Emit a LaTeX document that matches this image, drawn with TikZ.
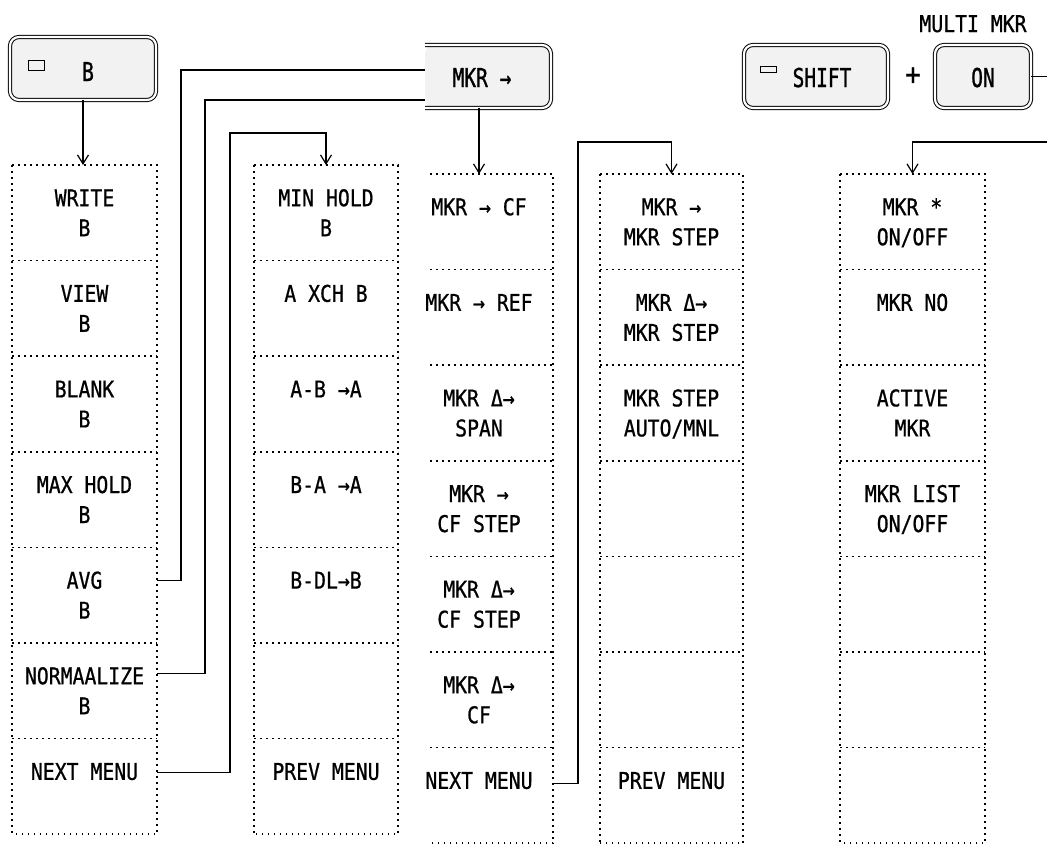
\documentclass[tikz,border=0pt]{standalone}
\usepackage{fontspec}
\newfontfamily\pf[FakeStretch=0.86,FakeBold=0.8]{DejaVu Sans Mono}
\newfontfamily\kf[FakeStretch=0.75,FakeBold=1]{DejaVu Sans Mono}
\usetikzlibrary{arrows.meta}
\tikzset{
  dotline/.style={line width=1.6pt, dash pattern=on 1.6pt off 4.4pt},
  cell/.style={inner sep=0pt, outer sep=0pt, minimum height=95.6pt},
  lbl/.style={font=\pf\fontsize{23}{30}\selectfont, align=center, anchor=north, inner sep=0pt},
  keylbl/.style={font=\kf\fontsize{26}{30}\selectfont, anchor=base, inner sep=0pt},
  wire/.style={line width=1.2pt},
  arr/.style={wire, -{Straight Barb[length=9pt,width=11pt,line width=1.2pt]}},
  keybox/.style={draw, line width=1pt, double=white, double distance=2.2pt,
    rounded corners=9pt, fill=black!5, inner sep=0pt, outer sep=0pt, minimum height=63pt},
  led/.style={draw, line width=1pt, inner sep=0pt, minimum width=16pt},
}
\newcommand\mcol[6]{%
  \foreach \txt [count=\k] in {#6} {
    \node[cell, minimum width={#3-#2}] (#1r\k) at ({(#2+#3)/2},{#4+95.6*(\k-0.5)}) {};
    \node[lbl] (#1t\k) at ([yshift=-20pt]#1r\k.north) {\strut\txt};
  }
  \draw[dotline] (#5,#4) -- (#3,#4) -- (#3,{#4+7*95.6}) -- (#5,{#4+7*95.6});
  \foreach \k in {1,...,6} \draw[dotline] (#5,{#4+95.6*\k}) -- (#3,{#4+95.6*\k});
}
\begin{document}
\begin{tikzpicture}[x=1pt,y=-1pt]
\useasboundingbox (0,0) rectangle (1047,846);

% keys
\node[keybox, minimum width=146pt] (keyB) at (83,68.5) {};
\node[led, minimum height=10pt] (ledB) at (36,65) {};
\node[keylbl] (tB) at (88,81) {B};

\fill[black!5, rounded corners=9pt] (425,45) -| (551,108) -- (425,108) -- cycle;
\draw[line width=1pt, double=white, double distance=2.2pt, rounded corners=9pt]
  (425,45) -| (551,108) -- (425,108);
\node[inner sep=0pt, outer sep=0pt, minimum width=126pt, minimum height=63pt] (mkr) at (488,76.5) {};
\node[keylbl] (tmkr) at (482,87) {MKR →};

\node[keybox, minimum width=144pt] (shift) at (816,76.5) {};
\node[led, minimum height=6pt] (ledS) at (768,69.5) {};
\node[keylbl] (tshift) at (822,87) {SHIFT};
\node[font=\pf\fontsize{30}{30}\selectfont, inner sep=0pt] (plus) at (913,76) {+};
\node[keybox, minimum width=96pt] (onkey) at (983,76.5) {};
\node[keylbl] (ton) at (983,87) {ON};
\node[lbl, anchor=base] (multi) at (973,32) {MULTI MKR};

% menu columns
\mcol{c1}{12}{157}{165}{12}{{WRITE\\B},{VIEW\\B},{BLANK\\B},{MAX HOLD\\B},{AVG\\B},{NORMAALIZE\\B},{NEXT MENU}}
\draw[dotline] (12,165) -- (12,834.2);
\mcol{c2}{254}{398}{165}{254}{{MIN HOLD\\B},{A XCH B},{A-B →A},{B-A →A},{B-DL→B},{},{PREV MENU}}
\draw[dotline] (254,165) -- (254,834.2);
\mcol{c3}{405}{553}{174}{430}{{MKR → CF},{MKR → REF},{MKR Δ→\\SPAN},{MKR →\\CF STEP},{MKR Δ→\\CF STEP},{MKR Δ→\\CF},{NEXT MENU}}
\mcol{c4}{600}{743}{174}{600}{{MKR →\\MKR STEP},{MKR Δ→\\MKR STEP},{MKR STEP\\AUTO/MNL},{},{},{},{PREV MENU}}
\draw[dotline] (600,174) -- (600,843.2);
\mcol{c5}{840}{985}{174}{840}{{MKR *\\ON/OFF},{MKR NO},{ACTIVE\\MKR},{MKR LIST\\ON/OFF},{},{},{}}
\draw[dotline] (840,174) -- (840,843.2);

% connectors
\coordinate (j1) at (230,133);
\coordinate (j2) at (181,70);
\coordinate (j3) at (205,100);
\coordinate (j4) at (578,142);
\coordinate (e1) at (1047,76.5);
\coordinate (e2) at (1047,142);

\draw[arr] (keyB.south) -- (keyB.south |- c1r1.north);
\draw[wire] ([yshift=15pt]c1r5.east) -| (j2) -- ([yshift=6.5pt]mkr.west);
\draw[wire] ([yshift=17pt]c1r6.east) -| (j3) -- ([yshift=-23.5pt]mkr.west);
\draw[arr] ([yshift=14pt]c1r7.east) -| (j1) -| (c2r1.north);
\draw[arr] ([xshift=-9pt]mkr.south) -- (c3r1.north);
\draw[arr] ([yshift=12pt]c3r7.east) -| (j4) -| (c4r1.north);
\draw[wire] (onkey.east) -- (e1);
\draw[arr] (e2) -| (c5r1.north);
\end{tikzpicture}
\end{document}
